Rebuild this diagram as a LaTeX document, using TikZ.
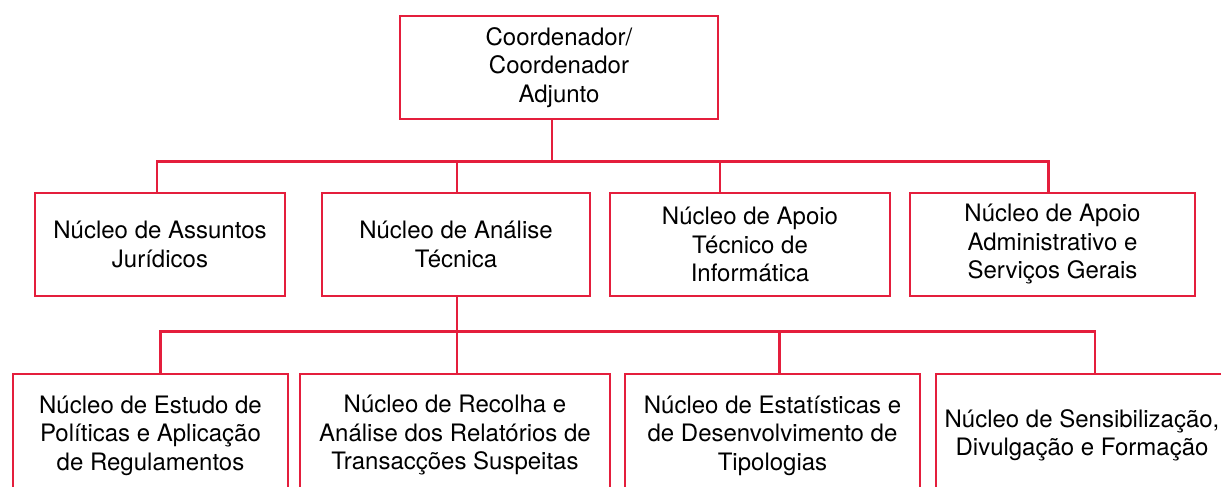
\documentclass[tikz,border=0pt]{standalone}
\usepackage{fontspec}
\setsansfont{TeX Gyre Heros}
\RequirePackage{xcolor}
\tikzset{every picture/.style={/utils/exec={\sffamily}}}
\usetikzlibrary{calc}
\usetikzlibrary{positioning}
\definecolor{orgred}{RGB}{228,30,60}
\tikzset{
  unit/.style={draw=orgred, line width=2.8pt, align=center, inner sep=0pt,
    font=\fontsize{24}{28.5}\selectfont},
  link/.style={draw=orgred, line width=2.8pt, line cap=rect},
}

\begin{document}
\begin{tikzpicture}[x=1pt, y=-1pt]
  \clip (0,0) rectangle (1221,487);

  \node [unit, minimum width=318pt, minimum height=103pt] (coord) at (559,67.5) {Coordenador/\\Coordenador\\Adjunto};

  \node [unit, minimum width=250pt, minimum height=103pt] (juri) at (160,244.5) {Núcleo de Assuntos\\Jurídicos};
  \node [unit, minimum width=268pt, minimum height=103pt] (tecn) at (456,244.5) {Núcleo de Análise\\Técnica};
  \node [unit, minimum width=280pt, minimum height=103pt] (info) at (750,244.5) {Núcleo de Apoio\\Técnico de\\Informática};
  \node [unit, minimum width=285pt, minimum height=103pt] (admin) at (1052.5,244.5) {Núcleo de Apoio\\Administrativo e\\Serviços Gerais};

  \node [unit, minimum width=275pt, minimum height=123pt] (estudo) at (150.5,435.5) {Núcleo de Estudo de\\Políticas e Aplicação\\de Regulamentos};
  \node [unit, minimum width=310pt, minimum height=123pt] (recolha) at (455,435.5) {Núcleo de Recolha e\\Análise dos Relatórios de\\Transacções Suspeitas};
  \node [unit, minimum width=295pt, minimum height=123pt] (estat) at (772.5,435.5) {Núcleo de Estatísticas e\\de Desenvolvimento de\\Tipologias};
  \node [unit, minimum width=292pt, minimum height=123pt] (sensi) at (1082,435.5) {Núcleo de Sensibilização,\\Divulgação e Formação};

  \draw [link] ([xshift=-7pt]coord.south) -- ++(0,41) coordinate (bus1);
  \draw [link] ([xshift=-3pt]juri.north |- bus1) -- ([xshift=-4pt]admin.north |- bus1);
  \foreach \n/\s in {juri/-3, tecn/1, info/-30, admin/-4}
    \draw [link] ([xshift=\s pt]\n.north |- bus1) -- ([xshift=\s pt]\n.north);

  \draw [link] ([xshift=1pt]tecn.south) -- ++(0,34) coordinate (bus2);
  \draw [link] ([xshift=10pt]estudo.north |- bus2) -- ([xshift=13pt]sensi.north |- bus2);
  \foreach \n/\s in {estudo/10, recolha/2, estat/7, sensi/13}
    \draw [link] ([xshift=\s pt]\n.north |- bus2) -- ([xshift=\s pt]\n.north);

\end{tikzpicture}
\end{document}
